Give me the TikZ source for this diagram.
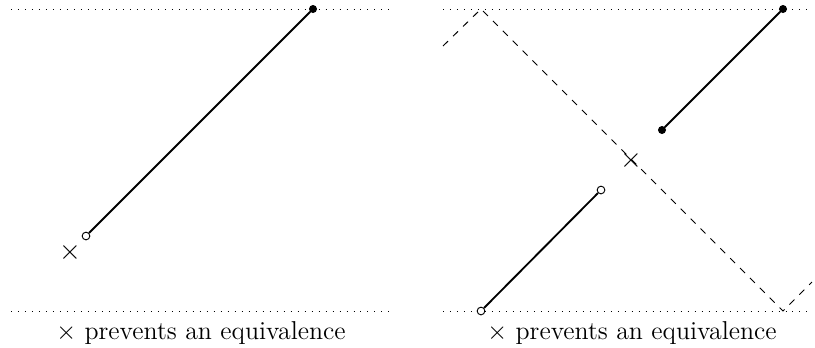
\documentclass[tikz,border=0pt]{standalone}
\begin{document}
\begin{tikzpicture}[x=0.4292pt,y=-0.4292pt,
  guide/.style={dash pattern=on 0.4pt off 2.6pt, line width=0.4pt},
  seg/.style={thick},
  fdot/.style={circle,fill=black,draw=black,inner sep=0pt,minimum size=3pt},
  odot/.style={circle,fill=white,draw=black,line width=0.4pt,inner sep=0pt,minimum size=3.3pt},
  xmark/.style={inner sep=0pt,font=\fontsize{11.5}{14}\selectfont},
  caption/.style={inner sep=0pt,anchor=base,font=\fontsize{11.1}{13}\selectfont}]
\useasboundingbox (0,0) rectangle (815,347);
% left panel
\draw[guide] (11,9) -- (390,9);
\draw[guide] (11,311) -- (390,311);
\node[fdot] (lt) at (313,9) {};
\node[odot] (lb) at (86,236) {};
\draw[seg] (lb) -- (lt);
\node[xmark] (lx) at (70,252) {$\times$};
\node[caption] (lc) at (201,339) {$\times$ prevents an equivalence};
% right panel
\draw[guide] (443,9) -- (811,9);
\draw[guide] (443,311) -- (811,311);
\coordinate (d1) at (443,46);
\coordinate (d2) at (481,9);
\coordinate (d3) at (783,311);
\coordinate (d4) at (812,282);
\draw[dashed] (d1) -- (d2) -- (d3) -- (d4);
\node[fdot] (rt) at (783,9) {};
\node[fdot] (rm) at (662,130) {};
\draw[seg] (rm) -- (rt);
\node[odot] (rn) at (601,190) {};
\node[odot] (rb) at (481,311) {};
\draw[seg] (rb) -- (rn);
\node[xmark] (rx) at (631,160) {$\times$};
\node[caption] (rc) at (632,339) {$\times$ prevents an equivalence};
\end{tikzpicture}
\end{document}
